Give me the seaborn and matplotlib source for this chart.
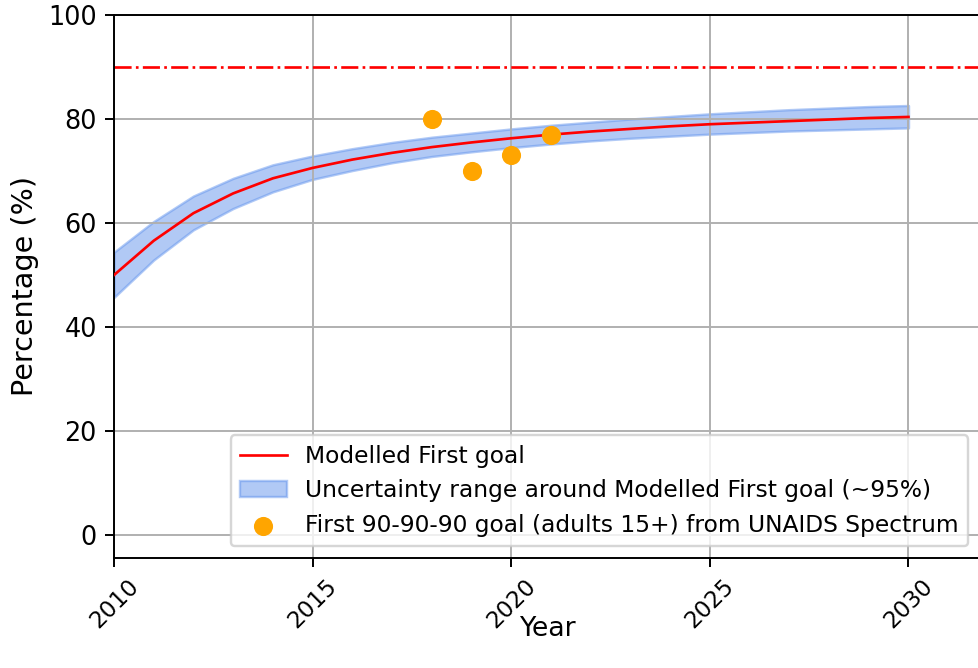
import matplotlib
matplotlib.use("Agg")
import matplotlib.pyplot as plt
import seaborn as sns
import pandas as pd

years = list(range(2010, 2031))
modelled = [50.0, 56.6, 61.9, 65.7, 68.6, 70.6, 72.2, 73.5, 74.6, 75.5, 76.3,
            77.0, 77.6, 78.1, 78.6, 79.0, 79.3, 79.6, 79.9, 80.2, 80.4]
lower = [45.7, 52.9, 58.7, 62.8, 66.0, 68.4, 70.1, 71.6, 72.8, 73.7, 74.5,
         75.2, 75.8, 76.3, 76.7, 77.1, 77.4, 77.7, 77.9, 78.1, 78.3]
upper = [54.4, 60.3, 65.2, 68.6, 71.2, 72.9, 74.3, 75.5, 76.5, 77.3, 78.1,
         78.8, 79.4, 80.0, 80.5, 81.0, 81.4, 81.8, 82.1, 82.4, 82.6]

obs_years = [2018, 2019, 2020, 2021]
obs_values = [80, 70, 73, 77]

target = 90
xticks = [2010, 2015, 2020, 2025, 2030]
yticks = [0, 20, 40, 60, 80, 100]

df = pd.DataFrame({"Year": years, "Modelled": modelled, "lower": lower, "upper": upper})
obs = pd.DataFrame({"Year": obs_years, "Value": obs_values})

dpi = 175
fig = plt.figure(figsize=(978 / dpi, 668 / dpi), dpi=dpi)
ax = fig.add_axes([114 / 978, 110 / 668, (980 - 114) / 978, (558 - 15) / 668])

sns.lineplot(data=df, x="Year", y="Modelled", color="red", linewidth=1.1,
             label="Modelled First goal", ax=ax, zorder=3)
ax.fill_between(df["Year"], df["lower"], df["upper"], color="cornflowerblue",
                alpha=0.5, label="Uncertainty range around Modelled First goal (~95%)")
sns.scatterplot(data=obs, x="Year", y="Value", color="orange", s=62, linewidth=0,
                label="First 90-90-90 goal (adults 15+) from UNAIDS Spectrum",
                ax=ax, zorder=4)
ax.axhline(target, color="red", linestyle="-.", linewidth=1.1)

ax.set_xlim(2010, 2031.8)
ax.set_ylim(-4.4, 100)
ax.set_xticks(xticks)
ax.set_yticks(yticks)
ax.tick_params(axis="x", rotation=45, labelsize=9.5)
ax.tick_params(axis="y", labelsize=10.5)
ax.grid(True)
ax.set_xlabel("Year", fontsize=11, labelpad=-7)
ax.set_ylabel("Percentage (%)", fontsize=11.8, labelpad=4)
ax.legend(loc="lower right", fontsize=9.6)

fig.savefig("out.png", dpi=dpi)
